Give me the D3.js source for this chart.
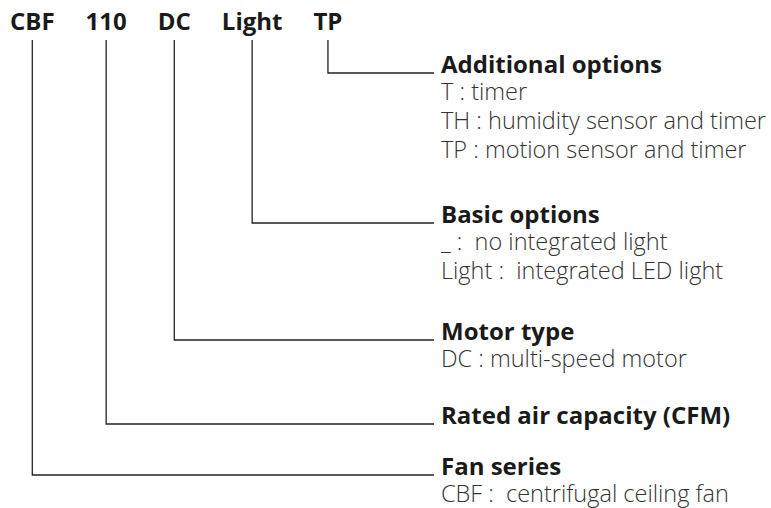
<!DOCTYPE html>
<html lang="en">
<head>
    <meta charset="UTF-8">
    <title>CBF model code</title>
    <script src="https://d3js.org/d3.v7.min.js"></script>
    <style>
        body { margin: 0; background: #fff; }
        text { white-space: pre; }
        .code { font: bold 24px "Open Sans", sans-serif; fill: #1a1a1a; }
        .title { font: bold 24px "Open Sans", sans-serif; fill: #1a1a1a; }
        .detail { font: 300 23.5px "Open Sans", sans-serif; fill: #333; }
        .leader { fill: none; stroke: #222; stroke-width: 1.3px; }
    </style>
</head>
<body>
<div id="chart"></div>
<script>
// model code segments, left to right
const codes = ["CBF", "110", "DC", "Light", "TP"];
const titles = ["Fan series", "Rated air capacity (CFM)", "Motor type", "Basic options", "Additional options"];
const details = [
    ["CBF :  centrifugal ceiling fan"],
    [],
    ["DC : multi-speed motor"],
    ["_ :  no integrated light", "Light :  integrated LED light"],
    ["T : timer", "TH : humidity sensor and timer", "TP : motion sensor and timer"]
];

const width = 771, height = 508;
const codeX0 = 10, codeGap = 31, codeBase = 30, lineTop = 40;
const lineEnd = 434, textX = 441;
const firstY = 73, firstDetail = 27, lineH = 29;
const blockStep = 51, detailStep = 33;   // vertical room per block and per detail line

const svg = d3.select("#chart").append("svg")
    .attr("width", width)
    .attr("height", height);

// codes along the top, laid out one after another
const codeText = svg.selectAll(".code")
    .data(codes)
    .enter().append("text")
    .attr("class", "code")
    .attr("y", codeBase)
    .text(d => d);

let x = codeX0;
const centers = [];
codeText.each(function() {
    const w = this.getComputedTextLength();
    d3.select(this).attr("x", x);
    centers.push(x + w / 2);
    x += w + codeGap;
});

// the last code gets the top row, so stack the blocks from right to left
const order = d3.range(codes.length).reverse();
const rowY = [];
let y = firstY;
order.forEach(i => {
    rowY[i] = y;
    y += blockStep + details[i].length * detailStep;
});

// leader lines
svg.selectAll(".leader")
    .data(codes)
    .enter().append("path")
    .attr("class", "leader")
    .attr("d", (d, i) => d3.line()([[centers[i], lineTop], [centers[i], rowY[i]], [lineEnd, rowY[i]]]));

// titles and detail lines
const block = svg.selectAll(".block")
    .data(titles)
    .enter().append("g")
    .attr("class", "block")
    .attr("transform", (d, i) => `translate(${textX},${rowY[i]})`);

block.append("text")
    .attr("class", "title")
    .text(d => d);

block.selectAll(".detail")
    .data((d, i) => details[i])
    .enter().append("text")
    .attr("class", "detail")
    .attr("y", (d, j) => firstDetail + j * lineH)
    .text(d => d);
</script>
</body>
</html>
